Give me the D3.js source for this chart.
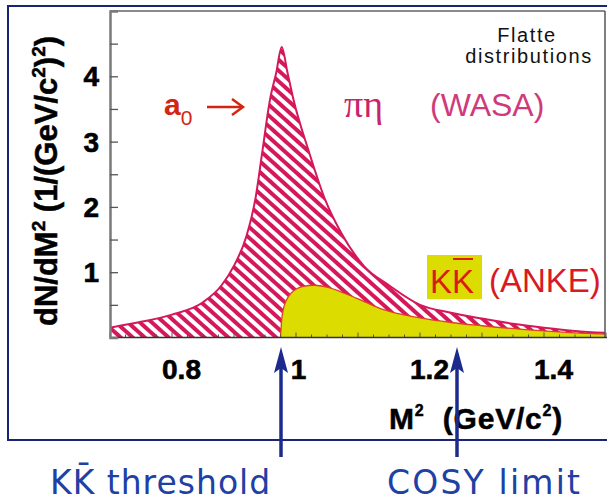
<!DOCTYPE html>
<html>
<head>
<meta charset="utf-8">
<script src="https://cdn.jsdelivr.net/npm/d3@7"></script>
<style>
  html, body { margin: 0; padding: 0; background: #fff; }
  svg { display: block; }
</style>
</head>
<body>
<div id="chart"></div>
<script>
// Flatté line shapes of the a0(980) in M^2 = m^2(pair)
// pi-eta channel (WASA) and K Kbar channel (ANKE), arbitrary normalisation
const wasaM2 = [0.70, 0.75, 0.80, 0.85, 0.88, 0.90, 0.92, 0.935, 0.945, 0.958, 0.968, 0.977,
                0.986, 0.996, 1.02, 1.047, 1.073, 1.11, 1.15, 1.20, 1.25, 1.30, 1.35, 1.40, 1.45, 1.50];
const wasaDN  = [0.15, 0.24, 0.35, 0.54, 0.80, 1.10, 1.55, 2.15, 2.80, 3.64, 4.05, 4.45,
                 4.07, 3.64, 2.87, 2.11, 1.60, 1.09, 0.80, 0.50, 0.38, 0.29, 0.21, 0.15, 0.10, 0.07];

const ankeM2 = [0.975, 0.977, 0.980, 0.985, 0.992, 1.00, 1.01, 1.03, 1.05, 1.08, 1.11, 1.14,
                1.20, 1.25, 1.30, 1.37, 1.45, 1.50];
const ankeDN = [0.00, 0.28, 0.45, 0.58, 0.68, 0.74, 0.78, 0.80, 0.77, 0.67, 0.55, 0.43,
                0.30, 0.23, 0.18, 0.12, 0.07, 0.05];

// axis ticks
const xTickLabels = [0.8, 1.0, 1.2, 1.4];
const yTickLabels = [1, 2, 3, 4];
const yMinorTicks = [0.5, 1, 1.5, 2, 2.5, 3, 3.5, 4, 4.5];

// marked positions on the M^2 axis
const markM2 = [0.975, 1.26];
const markText = ["KK\u0304 threshold", "COSY limit"];

const W = 607, H = 503;
const svg = d3.select("#chart").append("svg").attr("width", W).attr("height", H);

const x = d3.scaleLinear().domain([0.7, 1.5]).range([110, 606]);
const y = d3.scaleLinear().domain([0, 5]).range([337.5, 11]);

const plotL = 110, plotR = 605, plotT = 11, plotB = 337.5;
const sans = "Liberation Sans, Arial, sans-serif";

// hatch pattern for the pi-eta distribution
const defs = svg.append("defs");
const pat = defs.append("pattern")
  .attr("id", "hatch").attr("patternUnits", "userSpaceOnUse")
  .attr("width", 8).attr("height", 8)
  .attr("patternTransform", "rotate(42)");
pat.append("rect").attr("width", 8).attr("height", 8).attr("fill", "#fff");
pat.append("rect").attr("x", 0).attr("y", 0).attr("width", 8).attr("height", 4).attr("fill", "#d4185a");
defs.append("clipPath").attr("id", "plotClip")
  .append("rect").attr("x", plotL).attr("y", plotT).attr("width", plotR - plotL).attr("height", plotB - plotT);

// outer frame
const frameColor = "#1b2470";
svg.append("path")
  .attr("d", `M${W + 2},6 H8 V440 H${W + 2}`)
  .attr("fill", "none").attr("stroke", frameColor).attr("stroke-width", 2);

const plot = svg.append("g").attr("clip-path", "url(#plotClip)");

const wasaPts = wasaM2.map((m, i) => [m, wasaDN[i]]);
const ankePts = ankeM2.map((m, i) => [m, ankeDN[i]]);

const area = d3.area().x(d => x(d[0])).y0(y(0)).y1(d => y(d[1])).curve(d3.curveMonotoneX);
const line = d3.line().x(d => x(d[0])).y(d => y(d[1])).curve(d3.curveMonotoneX);

plot.append("path").datum(wasaPts).attr("d", area).attr("fill", "url(#hatch)");
plot.append("path").datum(wasaPts).attr("d", line)
  .attr("fill", "none").attr("stroke", "#d4185a").attr("stroke-width", 2);

plot.append("path").datum(ankePts).attr("d", area).attr("fill", "#dcdc00");
plot.append("path").datum(ankePts).attr("d", line)
  .attr("fill", "none").attr("stroke", "#e0402a").attr("stroke-width", 1.3);

// x minor ticks along the base line
const xMinor = d3.range(0.7, 1.5001, 0.025);
svg.append("g").selectAll("line").data(xMinor).join("line")
  .attr("x1", d => x(d)).attr("x2", d => x(d))
  .attr("y1", plotB).attr("y2", (d, i) => plotB - (i % 4 === 0 ? 5 : 3))
  .attr("stroke", "#555").attr("stroke-width", 1);

// plot box
svg.append("line").attr("x1", plotL).attr("x2", plotR).attr("y1", plotT).attr("y2", plotT)
  .attr("stroke", "#8a8a8a").attr("stroke-width", 2);
svg.append("line").attr("x1", plotR).attr("x2", plotR).attr("y1", plotT).attr("y2", plotB)
  .attr("stroke", "#555").attr("stroke-width", 1.5);
svg.append("line").attr("x1", plotL).attr("x2", plotR + 2).attr("y1", plotB).attr("y2", plotB)
  .attr("stroke", "#333").attr("stroke-width", 1.5);

// y axis
const yAxis = d3.axisRight(y).tickValues(yMinorTicks).tickSize(8).tickFormat("");
const yg = svg.append("g").attr("transform", `translate(${plotL},0)`).call(yAxis);
yg.select(".domain").attr("stroke", "#7a7a7a").attr("stroke-width", 2.5);
yg.selectAll(".tick line").attr("stroke", "#555").attr("stroke-width", 1.3);

svg.append("g").selectAll("text").data(yTickLabels).join("text")
  .attr("x", 99).attr("y", d => y(d) + 10)
  .attr("text-anchor", "end")
  .attr("font-family", sans)
  .attr("font-weight", "bold").attr("font-size", 28)
  .attr("stroke", "#000").attr("stroke-width", 0.6)
  .text(d => d);

// x tick labels
const xAxis = d3.axisBottom(x).tickValues(xTickLabels).tickSize(0).tickPadding(0)
  .tickFormat(d => d === 1 ? "1" : d3.format(".1f")(d));
const xg = svg.append("g").attr("transform", `translate(0,${plotB})`).call(xAxis);
xg.select(".domain").remove();
xg.selectAll(".tick text")
  .attr("dy", 0).attr("y", 41).attr("dx", d => d === 1 ? 2 : 9)
  .attr("fill", "#000")
  .attr("stroke", "#000").attr("stroke-width", 0.6)
  .attr("font-family", sans)
  .attr("font-weight", "bold").attr("font-size", 28);

// axis titles
const yTitle = svg.append("text")
  .attr("transform", "translate(57,181) rotate(-90)")
  .attr("text-anchor", "middle")
  .attr("font-family", sans)
  .attr("stroke", "#000").attr("stroke-width", 0.5)
  .attr("font-weight", "bold").attr("font-size", 31);
yTitle.append("tspan").text("dN/dM");
yTitle.append("tspan").attr("dy", -12).attr("font-size", 19).text("2");
yTitle.append("tspan").attr("dy", 12).text(" (1/(GeV/c");
yTitle.append("tspan").attr("dy", -12).attr("font-size", 19).text("2");
yTitle.append("tspan").attr("dy", 12).text(")");
yTitle.append("tspan").attr("dy", -12).attr("font-size", 19).text("2");
yTitle.append("tspan").attr("dy", 12).text(")");

const xTitle = svg.append("text")
  .attr("x", 389).attr("y", 429)
  .attr("font-family", sans)
  .attr("stroke", "#000").attr("stroke-width", 0.5)
  .attr("font-weight", "bold").attr("font-size", 30).attr("letter-spacing", 0.8);
xTitle.append("tspan").text("M");
xTitle.append("tspan").attr("dy", -13).attr("font-size", 16).text("2");
xTitle.append("tspan").attr("dy", 13).text("\u00a0\u00a0(GeV/c");
xTitle.append("tspan").attr("dy", -13).attr("font-size", 16).text("2");
xTitle.append("tspan").attr("dy", 13).text(")");

// annotations inside the plot
svg.append("text").attr("x", 527).attr("y", 42).attr("text-anchor", "middle")
  .attr("font-family", sans).attr("font-size", 20)
  .attr("letter-spacing", 1.6).attr("fill", "#111").text("Flatte");
svg.append("text").attr("x", 529).attr("y", 63).attr("text-anchor", "middle")
  .attr("font-family", sans).attr("font-size", 20)
  .attr("letter-spacing", 1.6).attr("fill", "#111").text("distributions");

const a0 = svg.append("text").attr("x", 164).attr("y", 115)
  .attr("font-family", sans).attr("font-weight", "bold")
  .attr("font-size", 30).attr("fill", "#d42412");
a0.append("tspan").text("a");
a0.append("tspan").attr("dy", 10).attr("font-size", 21).attr("font-weight", "normal").text("0");
svg.append("line").attr("x1", 207).attr("x2", 241).attr("y1", 107).attr("y2", 107)
  .attr("stroke", "#d42412").attr("stroke-width", 2.5);
svg.append("path").attr("d", "M232,99 L243,107 L232,115")
  .attr("fill", "none").attr("stroke", "#d42412").attr("stroke-width", 2.5);

svg.append("text").attr("x", 344).attr("y", 117)
  .attr("font-family", "Liberation Serif, Times New Roman, serif")
  .attr("font-size", 38).attr("fill", "#c8246a").text("\u03c0\u03b7");
svg.append("text").attr("x", 430).attr("y", 116)
  .attr("font-family", sans)
  .attr("font-size", 32).attr("fill", "#cf3a7c").text("(WASA)");

// K Kbar (ANKE) label on its yellow box
svg.append("rect").attr("x", 427).attr("y", 255).attr("width", 55).attr("height", 44).attr("fill", "#dcdc00");
const kk = svg.append("text").attr("x", 430).attr("y", 293)
  .attr("font-family", sans)
  .attr("font-size", 33).attr("fill", "#dd1a1a").text("KK");
{
  const n = kk.node();
  const s = n.getStartPositionOfChar(1).x, e = n.getEndPositionOfChar(1).x;
  svg.append("line").attr("x1", s + 1).attr("x2", e - 1).attr("y1", 259).attr("y2", 259)
    .attr("stroke", "#dd1a1a").attr("stroke-width", 2);
}
svg.append("text").attr("x", 489).attr("y", 292)
  .attr("font-family", sans)
  .attr("font-size", 33).attr("fill", "#d81a22").text("(ANKE)");

// arrows marking the threshold and the accessible limit
const arrowColor = "#1c2a8e";
const arrows = svg.append("g").selectAll("g").data(markM2).join("g")
  .attr("transform", d => `translate(${Math.round(x(d))},0)`);
arrows.append("line").attr("x1", 0).attr("x2", 0).attr("y1", 362).attr("y2", 457)
  .attr("stroke", arrowColor).attr("stroke-width", 3.5);
arrows.append("path").attr("d", "M0,347 L7,373 L0,368 L-7,373 Z").attr("fill", arrowColor);

// labels below the frame
svg.append("g").selectAll("text").data(markText).join("text")
  .attr("x", (d, i) => i === 0 ? 50 : 387).attr("y", 494)
  .attr("font-family", "DejaVu Sans, Verdana, sans-serif")
  .attr("font-size", 33).attr("letter-spacing", (d, i) => i === 0 ? 1 : 2.2)
  .attr("fill", "#2040a4").text(d => d);
</script>
</body>
</html>
